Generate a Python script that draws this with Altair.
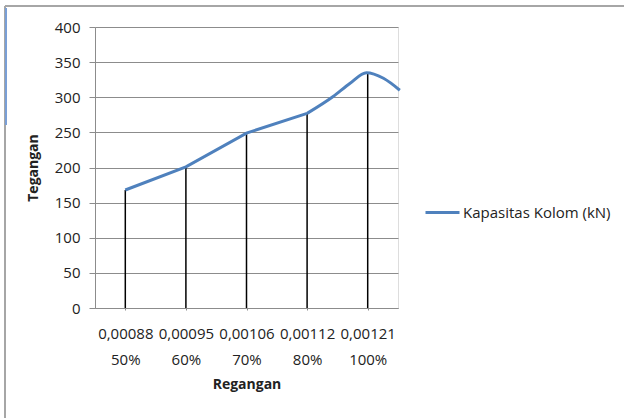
import altair as alt
import pandas as pd

# Category labels (strain / percentage)
strain_labels = ["0,00088", "0,00095", "0,00106", "0,00112", "0,00121"]
pct_labels = ["50%", "60%", "70%", "80%", "100%"]
cat_pos = [0, 1, 2, 3, 4]
cat_vals = [168, 201, 249, 277, 335]

# Curve as drawn: straight part, then the rounded part around the peak
line_pos = [0, 1, 2, 3]
line_vals = [168, 201, 249, 277]
peak_pos = [3, 3.43, 3.71, 3.98, 4.26, 4.53]
peak_vals = [277, 301, 320, 335, 327, 310]

y_ticks = [0, 50, 100, 150, 200, 250, 300, 350, 400]

series_name = "Kapasitas Kolom (kN)"
FONT = "Open Sans"

cats = pd.DataFrame({"pos": cat_pos, "val": cat_vals})
curve = pd.DataFrame({"pos": line_pos, "val": line_vals, "series": series_name})
peak = pd.DataFrame({"pos": peak_pos, "val": peak_vals, "series": series_name})

label_js = "[" + ",".join(
    "['%s','%s']" % (s, p) for s, p in zip(strain_labels, pct_labels)
) + "]"

xscale = alt.Scale(domain=[-0.5, 4.5], nice=False, zero=False)
yscale = alt.Scale(domain=[0, 400], nice=False)

x_axis = alt.Axis(
    values=cat_pos, title="Regangan", labelExpr=label_js + "[datum.value]",
    grid=False, domainColor="#8c8c8c", tickColor="#8c8c8c", tickSize=2,
    labelFont=FONT, labelFontSize=15, labelColor="#222222", labelPadding=16,
    labelLineHeight=26, labelBaseline="top", labelOverlap=False,
    titleFont=FONT, titleFontSize=14, titleFontWeight="bold", titleColor="#222222",
    titlePadding=10,
)
y_axis = alt.Axis(
    values=y_ticks, tickCount=len(y_ticks), title="Tegangan",
    grid=True, gridColor="#8c8c8c", domainColor="#8c8c8c", tickColor="#8c8c8c",
    tickSize=6, labelPadding=9, labelOverlap=False,
    labelFont=FONT, labelFontSize=15, labelColor="#222222",
    titleFont=FONT, titleFontSize=14, titleFontWeight="bold", titleColor="#222222",
    titlePadding=14,
)

color_enc = alt.Color(
    "series:N",
    scale=alt.Scale(range=["#4F81BD"]),
    legend=alt.Legend(
        title=None, orient="none", legendX=329, legendY=167,
        symbolType="stroke", symbolSize=1156, symbolStrokeWidth=3,
        labelFont=FONT, labelFontSize=15, labelColor="#222222",
        labelOffset=2,
    ),
)

drops = alt.Chart(cats).mark_rule(color="black", strokeWidth=1.5).encode(
    x=alt.X("pos:Q", scale=xscale, axis=x_axis),
    y=alt.Y("val:Q", scale=yscale, axis=y_axis),
    y2=alt.datum(0),
)

line = alt.Chart(curve).mark_line(strokeWidth=3, interpolate="linear").encode(
    x=alt.X("pos:Q", scale=xscale, axis=x_axis),
    y=alt.Y("val:Q", scale=yscale, axis=y_axis),
    color=color_enc,
)

peak_line = alt.Chart(peak).mark_line(strokeWidth=3, interpolate="monotone").encode(
    x=alt.X("pos:Q", scale=xscale, axis=x_axis),
    y=alt.Y("val:Q", scale=yscale, axis=y_axis),
    color=color_enc,
)

# Decorative frame of the original screenshot
frame_top = alt.Chart(cats).mark_rule(color="#a6a6a6", strokeWidth=2).encode(
    x=alt.value(-90), x2=alt.value(529), y=alt.value(-21)
)
frame_left = alt.Chart(cats).mark_rule(color="#a6a6a6", strokeWidth=2).encode(
    x=alt.value(-90), y=alt.value(-21), y2=alt.value(391)
)
blue_mark = alt.Chart(cats).mark_rule(color="#7a9fd6", strokeWidth=2).encode(
    x=alt.value(-89), y=alt.value(-19), y2=alt.value(98)
)

chart = alt.layer(drops, line, peak_line, frame_top, frame_left, blue_mark).properties(
    width=303, height=281,
    autosize=alt.AutoSizeParams(type="none"),
    padding={"left": 95, "top": 27, "right": 226, "bottom": 110},
).configure_view(stroke=None).configure(background="white")

chart.save("out.html", embed_options={"renderer": "svg", "actions": False})
